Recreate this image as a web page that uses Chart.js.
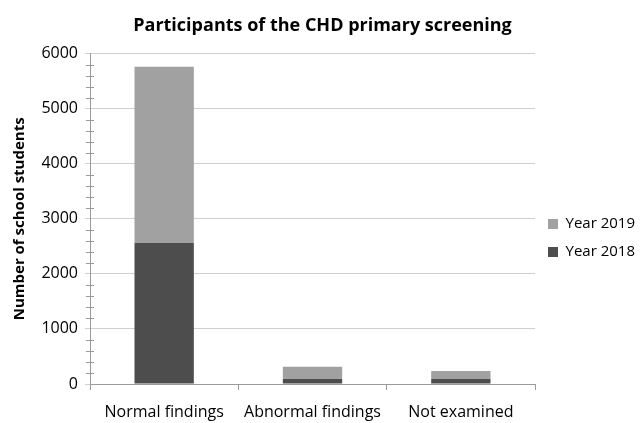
<!DOCTYPE html>
<html>
<head>
<meta charset="utf-8">
<script src="https://cdn.jsdelivr.net/npm/chart.js@4.4.0/dist/chart.umd.min.js"></script>
<style>
  html, body { margin: 0; padding: 0; background: #fff; }
  #wrap { width: 640px; height: 423px; position: relative; }
</style>
</head>
<body>
<div id="wrap"><canvas id="chart"></canvas></div>
<script>
const categories = ['Normal findings', 'Abnormal findings', 'Not examined'];
const year2018 = [2560, 90, 90];
const year2019 = [3200, 225, 145];
const yTicks = [0, 1000, 2000, 3000, 4000, 5000, 6000];

// little minor ticks every 200 across the y axis line
const minorTicks = {
  id: 'minorTicks',
  afterDraw(chart) {
    const y = chart.scales.y;
    const ctx = chart.ctx;
    ctx.save();
    ctx.strokeStyle = '#9a9a9a';
    ctx.lineWidth = 1;
    for (let v = 0; v <= 6000; v += 200) {
      if (v % 1000 === 0) continue;
      const py = Math.round(y.getPixelForValue(v)) + 0.5;
      ctx.beginPath();
      ctx.moveTo(y.right - 4, py);
      ctx.lineTo(y.right + 4, py);
      ctx.stroke();
    }
    ctx.restore();
  }
};

const ctx = document.getElementById('chart');
new Chart(ctx, {
  type: 'bar',
  data: {
    labels: categories,
    datasets: [
      {
        label: 'Year 2018',
        data: year2018,
        backgroundColor: '#4d4d4d',
        categoryPercentage: 1.0,
        barPercentage: 0.4
      },
      {
        label: 'Year 2019',
        data: year2019,
        backgroundColor: '#a1a1a1',
        categoryPercentage: 1.0,
        barPercentage: 0.4
      }
    ]
  },
  options: {
    responsive: true,
    maintainAspectRatio: false,
    animation: false,
    layout: { padding: { left: 0, right: -5, top: 0, bottom: 1 } },
    plugins: {
      title: {
        display: true,
        text: 'Participants of the CHD primary screening',
        color: '#000',
        font: { family: 'Open Sans', size: 18, weight: 'bold' },
        padding: { top: 15, bottom: 17 }
      },
      legend: {
        position: 'right',
        reverse: true,
        // empty title only pushes the entries down a bit
        title: { display: true, text: '', font: { size: 10 }, padding: { top: 42, bottom: 0 } },
        labels: {
          color: '#000',
          font: { family: 'Open Sans', size: 15 },
          boxWidth: 10,
          boxHeight: 10,
          padding: 13
        }
      },
      tooltip: { enabled: false }
    },
    scales: {
      x: {
        stacked: true,
        grid: { drawOnChartArea: false, offset: true, tickLength: 6, color: '#9a9a9a' },
        border: { color: '#9a9a9a' },
        ticks: { color: '#000', font: { family: 'Open Sans', size: 16 }, padding: 13 },
        afterFit(scale) { scale.height = 38; }
      },
      y: {
        stacked: true,
        min: 0,
        max: 6000,
        afterBuildTicks(axis) { axis.ticks = yTicks.map(v => ({ value: v })); },
        grid: { color: '#cfcfcf', tickLength: 5 },
        border: { color: '#9a9a9a' },
        ticks: {
          color: '#000',
          font: { family: 'Open Sans', size: 16 },
          padding: 7,
          callback: v => String(v)
        },
        title: {
          display: true,
          text: 'Number of school students',
          color: '#000',
          font: { family: 'Open Sans', size: 15, weight: 'bold' },
          padding: { top: 11, bottom: 5 }
        },
        afterFit(scale) { scale.width = 90; }
      }
    }
  },
  plugins: [minorTicks]
});
</script>
</body>
</html>
